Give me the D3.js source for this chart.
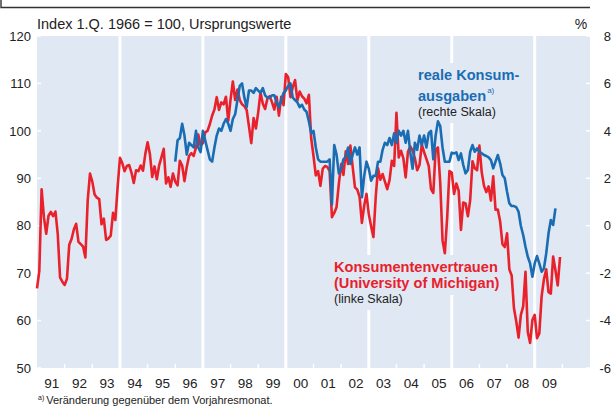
<!DOCTYPE html>
<html>
<head>
<meta charset="utf-8">
<script src="https://cdn.jsdelivr.net/npm/d3@7"></script>
<style>
body { margin: 0; background: #fff; }
text { font-family: "Liberation Sans", Arial, sans-serif; }
</style>
</head>
<body>
<svg id="chart" width="615" height="406"></svg>
<script>
// Michigan consumer sentiment, monthly from Jan 1991 (left scale)
var sentiment = [
	66.8, 70.4, 87.7, 81.8, 78.3, 82.1, 82.9, 82.0, 83.0, 78.3, 69.1, 68.2,
	67.5, 68.8, 76.0, 77.2, 79.2, 80.4, 76.6, 76.1, 75.6, 73.3, 85.3, 91.0,
	89.3, 86.6, 85.9, 85.6, 80.3, 81.5, 77.0, 77.3, 77.9, 82.7, 81.2, 88.2,
	94.3, 93.2, 91.5, 92.6, 92.8, 91.2, 89.0, 91.7, 91.5, 92.7, 91.6, 95.1,
	97.6, 95.1, 90.3, 92.5, 89.8, 92.7, 94.4, 96.2, 88.9, 90.2, 88.2, 91.0,
	89.3, 88.5, 93.7, 92.7, 89.4, 92.4, 94.7, 95.3, 94.7, 96.5, 99.2, 96.9,
	97.4, 99.7, 100.0, 101.4, 103.2, 104.5, 107.1, 104.4, 106.0, 105.6, 107.2, 102.1,
	106.6, 110.4, 106.5, 108.7, 106.5, 105.6, 105.2, 104.4, 100.9, 97.4, 102.7, 100.5,
	103.9, 108.1, 105.7, 104.6, 106.8, 107.3, 106.0, 104.5, 107.2, 103.2, 107.2, 105.4,
	112.0, 111.3, 107.1, 109.2, 110.7, 106.4, 108.3, 107.3, 106.8, 105.8, 107.6, 98.4,
	94.7, 90.6, 91.5, 88.4, 92.0, 92.6, 92.4, 91.5, 81.8, 82.7, 83.9, 88.8,
	93.0, 90.7, 95.7, 93.0, 96.9, 92.4, 88.1, 87.6, 86.1, 80.6, 84.2, 86.7,
	82.4, 79.9, 77.6, 86.0, 92.1, 89.7, 90.9, 89.3, 87.7, 89.6, 93.7, 92.6,
	103.8, 94.4, 95.8, 94.2, 90.2, 95.6, 96.7, 95.9, 94.2, 91.7, 92.8, 97.1,
	95.5, 94.1, 92.6, 87.7, 86.9, 96.0, 96.5, 89.1, 76.9, 74.2, 81.6, 91.5,
	91.2, 86.7, 88.9, 87.4, 79.1, 84.9, 84.7, 82.0, 85.4, 93.6, 92.1, 91.7,
	96.9, 91.3, 88.4, 87.1, 88.3, 85.3, 90.4, 83.4, 83.4, 80.9, 76.1, 75.5,
	78.4, 70.8, 69.5, 62.6, 59.8, 56.4, 61.2, 63.0, 70.3, 57.6, 55.3, 60.1,
	61.2, 56.3, 57.3, 65.1, 68.7, 70.8, 66.0, 65.7, 73.5, 70.6, 67.4, 73.4
];
var sentimentStart = 1991;

// real consumer spending, % change on a year earlier, monthly from Jan 1996 (right scale)
var spending = [
	2.7, 3.6, 3.7, 4.3, 3.8, 3.0, 3.5, 3.4, 3.3, 4.0, 3.3, 3.1,
	4.0, 3.6, 3.2, 2.8, 2.7, 3.3, 3.8, 4.1, 4.0, 4.3, 4.5, 4.3,
	4.0, 4.5, 4.7, 5.3, 5.9, 6.0, 5.4, 5.0, 5.7, 5.7, 5.6, 5.8,
	5.7, 5.6, 5.8, 5.5, 5.4, 5.4, 5.5, 5.5, 5.2, 5.0, 5.3, 5.6,
	5.7, 5.9, 6.0, 5.4, 5.3, 5.2, 5.0, 5.1, 4.9, 4.8, 4.4, 3.9,
	4.0, 3.3, 2.8, 2.7, 2.7, 2.7, 2.7, 2.8, 0.9, 3.4, 3.0, 2.2,
	2.4, 2.8, 2.9, 3.3, 2.6, 3.0, 3.3, 3.0, 3.3, 1.2, 2.1, 2.7,
	2.4, 1.9, 2.1, 2.1, 2.7, 2.7, 3.2, 3.5, 3.4, 3.7, 3.4, 3.9,
	3.5, 4.0, 3.8, 4.0, 3.5, 4.0, 3.1, 2.4, 3.5, 3.2, 3.8, 3.4,
	3.8, 3.3, 3.9, 4.0, 2.8, 3.8, 4.4, 4.2, 3.3, 2.7, 2.7, 2.7,
	3.08, 3.05, 3.09, 2.77, 3.05, 2.56, 2.21, 2.35, 3.12, 3.4, 3.12, 3.26,
	3.12, 3.05, 2.98, 2.94, 2.88, 2.77, 2.42, 2.7, 2.98, 2.63, 2.14, 2.0,
	1.43, 0.94, 0.83, 0.83, 0.78, 0.59, -0.01, -0.39, -0.89, -1.31, -1.59, -2.15,
	-1.59, -1.28, -1.59, -1.94, -1.8, -1.17, -0.32, 0.24, 0.03, 0.73
];
var spendingStart = 1996;

var yearLabels = ["91", "92", "93", "94", "95", "96", "97", "98", "99", "00",
	"01", "02", "03", "04", "05", "06", "07", "08", "09"];
var firstYear = 1991, lastYear = 2011;
var leftTicks = [50, 60, 70, 80, 90, 100, 110, 120];
var rightTicks = [-6, -4, -2, 0, 2, 4, 6, 8];
var separatorYears = [1994, 1997, 2000, 2003, 2006, 2009];

var plotLeft = 37, plotRight = 590, plotTop = 36, plotBottom = 368;
var bg = "#e0e8f4";
var red = "#e8212b", blue = "#1a6db3";

var svg = d3.select("#chart");

var x = d3.scaleLinear().domain([firstYear, lastYear]).range([plotLeft, plotRight]);
var yL = d3.scaleLinear().domain([50, 120]).range([plotBottom, plotTop]);
var yR = d3.scaleLinear().domain([-6, 8]).range([plotBottom, plotTop]);

function toPoints(values, start) {
	return values.map(function(v, i) { return { t: start + i / 12, v: v }; });
}

// frame line at the very top
svg.append("path")
	.attr("d", "M1,0V7.5H590")
	.attr("fill", "none")
	.attr("stroke", "#333")
	.attr("stroke-width", 1.4);

svg.append("rect")
	.attr("x", plotLeft).attr("y", plotTop)
	.attr("width", plotRight - plotLeft).attr("height", plotBottom - plotTop)
	.attr("fill", bg);

svg.selectAll("line.sep")
	.data(separatorYears)
	.enter()
	.append("line")
	.attr("class", "sep")
	.attr("x1", function(d) { return x(d); })
	.attr("x2", function(d) { return x(d); })
	.attr("y1", plotTop).attr("y2", plotBottom)
	.attr("stroke", "#fff")
	.attr("stroke-width", 3);

// small white ticks
svg.selectAll("line.xt")
	.data(d3.range(firstYear + 1, lastYear))
	.enter()
	.append("line")
	.attr("class", "xt")
	.attr("x1", function(d) { return x(d); })
	.attr("x2", function(d) { return x(d); })
	.attr("y1", plotBottom - 4).attr("y2", plotBottom)
	.attr("stroke", "#fff").attr("stroke-width", 1.5);

svg.selectAll("line.lt")
	.data(leftTicks)
	.enter()
	.append("line")
	.attr("class", "lt")
	.attr("x1", plotLeft).attr("x2", plotLeft + 4)
	.attr("y1", function(d) { return yL(d); })
	.attr("y2", function(d) { return yL(d); })
	.attr("stroke", "#fff").attr("stroke-width", 1.5);

svg.selectAll("line.rt")
	.data(rightTicks)
	.enter()
	.append("line")
	.attr("class", "rt")
	.attr("x1", plotRight - 4).attr("x2", plotRight)
	.attr("y1", function(d) { return yR(d); })
	.attr("y2", function(d) { return yR(d); })
	.attr("stroke", "#fff").attr("stroke-width", 1.5);

// labels sit on boxes of the plot colour that hide the separators
function label(lines) {
	var g = svg.append("g");
	lines.forEach(function(l) {
		var t = g.append("text")
			.attr("x", l.x).attr("y", l.y)
			.attr("fill", l.color)
			.attr("font-size", l.size)
			.attr("font-weight", l.bold ? "bold" : "normal")
			.text(l.text);
		if (l.sup) {
			t.append("tspan").attr("font-size", 8).attr("font-weight", "normal")
				.attr("dx", 1).attr("dy", -8).text(l.sup);
		}
		var b = t.node().getBBox();
		g.insert("rect", "text")
			.attr("x", b.x - 3).attr("y", b.y - 4)
			.attr("width", b.width + 6).attr("height", b.height + 8)
			.attr("fill", bg);
	});
}

label([
	{ text: "reale Konsum-", x: 418, y: 80, size: 14.6, bold: true, color: blue },
	{ text: "ausgaben", x: 418, y: 101, size: 14.6, bold: true, color: blue, sup: "a)" },
	{ text: "(rechte Skala)", x: 418, y: 116, size: 12.5, color: "#222" }
]);
label([
	{ text: "Konsumentenvertrauen", x: 334, y: 272, size: 14.6, bold: true, color: red },
	{ text: "(University of Michigan)", x: 334, y: 288, size: 14.6, bold: true, color: red },
	{ text: "(linke Skala)", x: 334, y: 303, size: 12.5, color: "#222" }
]);

var lineL = d3.line()
	.x(function(d) { return x(d.t); })
	.y(function(d) { return yL(d.v); });
var lineR = d3.line()
	.x(function(d) { return x(d.t); })
	.y(function(d) { return yR(d.v); });

svg.append("path")
	.datum(toPoints(sentiment, sentimentStart))
	.attr("d", lineL)
	.attr("fill", "none")
	.attr("stroke", red)
	.attr("stroke-width", 2.6)
	.attr("stroke-linejoin", "round");

svg.append("path")
	.datum(toPoints(spending, spendingStart))
	.attr("d", lineR)
	.attr("fill", "none")
	.attr("stroke", blue)
	.attr("stroke-width", 2.6)
	.attr("stroke-linejoin", "round");

// axes
var axisL = svg.append("g")
	.attr("transform", "translate(" + (plotLeft - 6) + ",0)")
	.call(d3.axisLeft(yL).tickValues(leftTicks).tickSize(0).tickPadding(0));
var axisR = svg.append("g")
	.attr("transform", "translate(611,0)")
	.call(d3.axisLeft(yR).tickValues(rightTicks).tickSize(0).tickPadding(0)
		.tickFormat(function(d) { return d < 0 ? "-" + Math.abs(d) : d; }));
[axisL, axisR].forEach(function(a) {
	a.select(".domain").remove();
	a.selectAll("text")
		.attr("font-size", 13)
		.attr("fill", "#222")
		.attr("font-family", "Liberation Sans, Arial, sans-serif");
});

svg.selectAll("text.year")
	.data(yearLabels)
	.enter()
	.append("text")
	.attr("class", "year")
	.attr("x", function(d, i) { return x(firstYear + i + 0.5) + 1; })
	.attr("y", 388)
	.attr("text-anchor", "middle")
	.attr("font-size", 13.5)
	.attr("fill", "#222")
	.text(function(d) { return d; });

svg.append("text")
	.attr("x", 37).attr("y", 29)
	.attr("font-size", 14.5)
	.attr("fill", "#222")
	.text("Index 1.Q. 1966 = 100, Ursprungswerte");

svg.append("text")
	.attr("x", 581).attr("y", 29)
	.attr("text-anchor", "middle")
	.attr("font-size", 14)
	.attr("fill", "#222")
	.text("%");

var foot = svg.append("text")
	.attr("x", 38).attr("y", 404)
	.attr("font-size", 11)
	.attr("fill", "#222");
foot.append("tspan").attr("font-size", 7).attr("dy", -4).text("a)");
foot.append("tspan").attr("dx", 2).attr("dy", 4).text("Veränderung gegenüber dem Vorjahresmonat.");
</script>
</body>
</html>
